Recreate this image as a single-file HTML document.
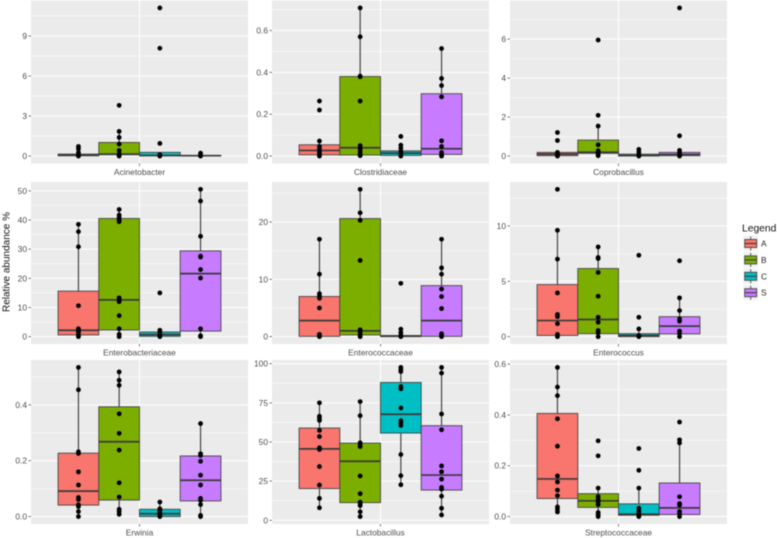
<!DOCTYPE html>
<html>
<head>
<meta charset="utf-8">
<title>Relative abundance by family</title>
<style>
html,body{margin:0;padding:0;background:#fff;}
#chart{display:block;width:778px;height:538px;filter:blur(0.45px);font-family:"Liberation Sans",sans-serif;}
</style>
</head>
<body>
<svg id="chart" width="778" height="538" viewBox="0 0 778 538" xmlns="http://www.w3.org/2000/svg">
  <text transform="translate(9.5,262) rotate(-90)" text-anchor="middle" font-size="10" fill="#111">Relative abundance %</text>
  <g id="panels"></g>
  <g id="legend"></g>
</svg>
<script>
const families = ['Acinetobacter','Clostridiaceae','Coprobacillus','Enterobacteriaceae','Enterococcaceae','Enterococcus','Erwinia','Lactobacillus','Streptococcaceae'];
const groups = ['A','B','C','S'];
const groupColors = ['#F8766D','#7CAE00','#00BFC4','#C77CFF'];
const yTickLabels = [
  ['0','3','6','9'],['0.0','0.2','0.4','0.6'],['0','2','4','6'],
  ['0','10','20','30','40','50'],['0','10','20'],['0','5','10'],
  ['0.0','0.2','0.4'],['0','25','50','75','100'],['0.0','0.2','0.4','0.6']
];
const axisMin = [0,0,0,0,0,0,0,2.4,0];
const axisMax = [11.1,0.708,7.6,50.5,25.7,13.3,0.534,97.6,0.587];
const q1Values = [
  [0.02,0.1,0.02,0.02],[0.006,0.005,0.003,0.008],[0.02,0.14,0.01,0.02],
  [0.6,2.3,0.1,1.9],[0.05,0.3,0,0.05],[0.1,0.27,0,0.25],
  [0.041,0.059,0,0.056],[20.3,11.3,55.7,19.3],[0.071,0.036,0.005,0.008]
];
const medianValues = [
  [0.08,0.15,0.05,0.03],[0.027,0.04,0.014,0.035],[0.1,0.2,0.03,0.08],
  [2.2,12.6,0.7,21.6],[2.8,1,0.1,2.8],[1.45,1.55,0.1,0.95],
  [0.091,0.268,0.01,0.13],[45.6,37.7,67.7,28.9],[0.148,0.062,0.009,0.034]
];
const q3Values = [
  [0.15,1.02,0.28,0.05],[0.054,0.38,0.025,0.298],[0.19,0.82,0.1,0.19],
  [15.6,40.5,1.6,29.4],[7,20.6,0.2,8.9],[4.7,6.15,0.27,1.8],
  [0.227,0.393,0.026,0.217],[58.9,49.3,88,60.4],[0.406,0.09,0.05,0.132]
];
const whiskerLow = [
  [0,0,0,0],[0,0.002,0,0],[0,0.02,0,0],
  [0,0,0,0],[0,0,0,0],[0,0,0,0],
  [0,0.008,0,0],[8,2.4,22.7,3.4],[0.018,0,0,0]
];
const whiskerHigh = [
  [0.27,1.85,0.28,0.07],[0.072,0.708,0.052,0.514],[0.19,1.54,0.2,0.29],
  [38.5,43.6,2.2,50.5],[17,25.7,0.2,17],[9.6,8.1,0.7,3.5],
  [0.534,0.518,0.052,0.333],[75,75.8,97.6,97.6],[0.587,0.112,0.112,0.302]
];
const pointValues = [
  [[0.72,0.55,0.27,0.12,0],[3.8,1.85,1.4,0.9,0.42,0.17,0.07,0],[11.1,8.08,0.95,0.1,0],[0.22,0.07,0]],
  [[0.263,0.22,0.072,0.046,0.035,0.02,0.01,0],[0.708,0.57,0.382,0.379,0.263,0.05,0.035,0.022,0.011,0.002],[0.094,0.052,0.038,0.022,0.011,0],[0.514,0.371,0.337,0.283,0.073,0.046,0.017,0.006,0]],
  [[1.21,0.8,0.19,0.1,0.05,0],[5.95,2.09,1.54,0.58,0.27,0.17,0.07,0.02],[0.34,0.2,0.07,0],[7.6,1.04,0.29,0.17,0.07,0]],
  [[38.5,36,30.8,10.6,2.7,1.9,1.4,0.45,0],[43.6,41.7,40.9,40.1,39.4,13.3,12.6,12,7.2,2.7,0.8,0],[15,2.2,1.4,0.6,0],[50.5,46.5,34.4,27.6,27.3,23,20.1,2.7,0.3,0]],
  [[17,10.9,7.5,7.1,6.7,5,0.4,0.1,0],[25.7,21.6,20.3,13.3,1.2,0.8,0.4,0],[9.3,1.3,0.7,0.2,0],[17,12,10.9,8.3,7,4.9,0.5,0.2,0]],
  [[13.3,9.6,7,3.95,2,1.8,1.17,0.2,0],[8.1,7.15,7.05,5.8,3.65,1.75,1.3,0.55,0.35,0],[7.35,1.75,0.7,0.1,0],[6.85,3.5,2.35,1.6,1.4,0.5,0.27,0]],
  [[0.534,0.454,0.232,0.226,0.16,0.113,0.068,0.061,0.042,0.036,0.018,0],[0.518,0.488,0.47,0.368,0.298,0.238,0.121,0.07,0.026,0.018,0.008],[0.052,0.028,0.02,0.012,0.004,0],[0.333,0.225,0.219,0.198,0.148,0.113,0.065,0.058,0.043,0.004,0]],
  [[75,66.4,65,63.8,57.4,53.5,46.3,45.2,34.3,22.5,14,8],[75.8,66.8,49.5,48.4,47.1,28.3,17,11.6,10.5,9.4,5.4,2.4],[97.6,96.1,95,85.4,84,71.7,63.6,62.1,60.6,42,28.5,22.7],[97.6,94,67.9,57.8,34.7,31,26.3,21,19.9,15.4,7.7,3.4]],
  [[0.587,0.51,0.476,0.385,0.277,0.16,0.136,0.104,0.082,0.038,0.029,0.018],[0.298,0.239,0.112,0.079,0.069,0.058,0.047,0.016,0.008,0],[0.268,0.182,0.112,0.033,0.022,0.013,0.004,0],[0.372,0.302,0.29,0.078,0.051,0.045,0.02,0.011,0]]
];

const NS = 'http://www.w3.org/2000/svg';
const panelWidth = 217;
const panelHeights = [163, 162, 164];
const colStart = [31, 272, 510];
const rowStart = [0.5, 182, 360];
const dodgeWidth = 40.7;

function shape(parent, tag, attrs, text) {
  const el = document.createElementNS(NS, tag);
  for (const k in attrs) el.setAttribute(k, attrs[k]);
  if (text !== undefined) el.textContent = text;
  parent.appendChild(el);
  return el;
}

const panelsRoot = document.getElementById('panels');
families.forEach(function (family, p) {
  const col = p % 3;
  const row = Math.floor(p / 3);
  const left = colStart[col];
  const top = rowStart[row];
  const h = panelHeights[row];
  const span = axisMax[p] - axisMin[p];
  const lo = axisMin[p] - span * 0.05;
  const hi = axisMax[p] + span * 0.05;
  const yScale = function (v) { return top + h - (v - lo) / (hi - lo) * h; };
  const center = left + panelWidth / 2;
  const xScale = function (g) { return center + (g - 1.5) * dodgeWidth; };

  const g = document.createElementNS(NS, 'g');
  
  
  panelsRoot.appendChild(g);

  const bg = shape(g, 'rect', {x: left, y: top, width: panelWidth, height: h, fill: '#EBEBEB'});
  
  

  const ticks = yTickLabels[p].map(Number);
  const step = ticks[1] - ticks[0];
  for (let m = ticks[0] - step / 2; m <= hi; m += step) {
    if (m < lo) continue;
    const minor = shape(g, 'line', {x1: left, x2: left + panelWidth, y1: yScale(m), y2: yScale(m), stroke: '#fff', 'stroke-width': 0.5});
    
    
  }
  yTickLabels[p].forEach(function (label) {
    const v = Number(label);
    const y = yScale(v);
    const grid = shape(g, 'line', {x1: left, x2: left + panelWidth, y1: y, y2: y, stroke: '#fff', 'stroke-width': 1});
    
    
    const mark = shape(g, 'line', {x1: left - 2.5, x2: left, y1: y, y2: y, stroke: '#444', 'stroke-width': 0.7});
    
    
    const txt = shape(g, 'text', {x: left - 4, y: y + 3, 'text-anchor': 'end', 'font-size': 8.4, fill: '#4d4d4d'}, label);
    
    
  });
  const vgrid = shape(g, 'line', {x1: center, x2: center, y1: top, y2: top + h, stroke: '#fff', 'stroke-width': 1});
  
  
  const xmark = shape(g, 'line', {x1: center, x2: center, y1: top + h, y2: top + h + 2.5, stroke: '#444', 'stroke-width': 0.7});
  
  
  const strip = shape(g, 'text', {x: center, y: top + h + 11.5, 'text-anchor': 'middle', 'font-size': 8.4, fill: '#4d4d4d'}, family);
  
  

  groups.forEach(function (name, gi) {
    const cx = xScale(gi);
    const whisker = shape(g, 'line', {x1: cx, x2: cx, y1: yScale(whiskerLow[p][gi]), y2: yScale(whiskerHigh[p][gi]), stroke: '#444', 'stroke-width': 1.2});
    
    
    const yTop = yScale(q3Values[p][gi]);
    const yBot = yScale(q1Values[p][gi]);
    const box = shape(g, 'rect', {x: cx - dodgeWidth / 2, y: yTop, width: dodgeWidth, height: yBot - yTop, fill: groupColors[gi], stroke: '#444', 'stroke-width': 0.9});
    
    
    const med = shape(g, 'line', {x1: cx - dodgeWidth / 2, x2: cx + dodgeWidth / 2, y1: yScale(medianValues[p][gi]), y2: yScale(medianValues[p][gi]), stroke: '#3a3a3a', 'stroke-width': 1.7});
    
    
  });
  groups.forEach(function (name, gi) {
    pointValues[p][gi].forEach(function (v) {
      const pt = shape(g, 'circle', {cx: xScale(gi), cy: yScale(v), r: 2.4, fill: '#000'});
      
      
    });
  });
});

const legendRoot = document.getElementById('legend');
const legendTitle = shape(legendRoot, 'text', {x: 742, y: 231.5, 'font-size': 10.3, fill: '#111'}, 'Legend');


groups.forEach(function (name, gi) {
  const cy = 243.5 + gi * 16.4;
  const entry = document.createElementNS(NS, 'g');
  
  
  legendRoot.appendChild(entry);
  shape(entry, 'rect', {x: 743.5, y: cy - 8, width: 14.5, height: 15.5, fill: '#F2F2F2'});
  shape(entry, 'line', {x1: 750.7, x2: 750.7, y1: cy - 7, y2: cy + 7, stroke: '#444', 'stroke-width': 0.9});
  shape(entry, 'rect', {x: 744.7, y: cy - 4, width: 12, height: 8, fill: groupColors[gi], stroke: '#444', 'stroke-width': 0.9});
  shape(entry, 'line', {x1: 744.7, x2: 756.7, y1: cy, y2: cy, stroke: '#3a3a3a', 'stroke-width': 1.1});
  shape(entry, 'text', {x: 761, y: cy + 3, 'font-size': 8.4, fill: '#222'}, name);
});
</script>
</body>
</html>
